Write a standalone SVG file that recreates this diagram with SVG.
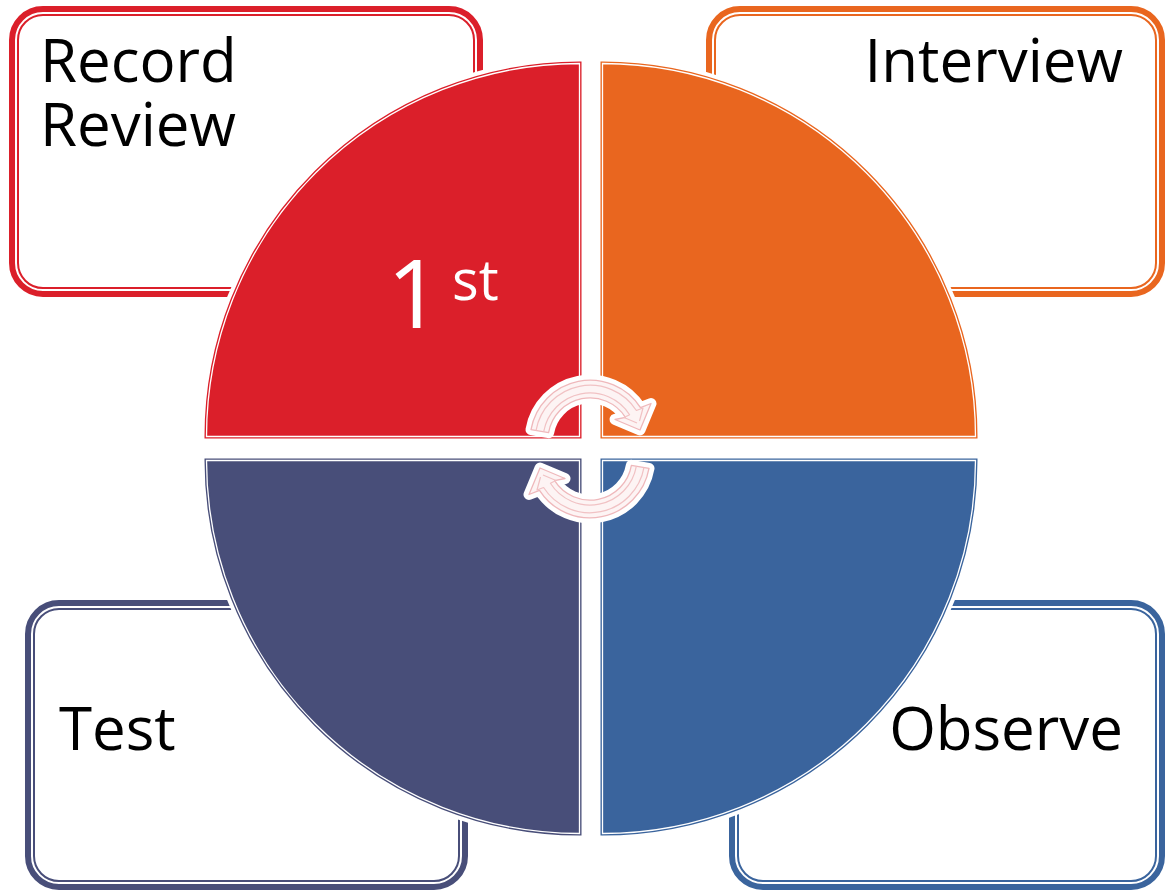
<svg xmlns="http://www.w3.org/2000/svg" width="1166" height="891" viewBox="0 0 1166 891">
<style>
.box{fill:#fff}
.thick{fill:none;stroke-width:6}
.thin{fill:none;stroke-width:2}
.halo{fill:#fff;stroke:#fff;stroke-width:12;stroke-linejoin:round}
.q{stroke-width:4;stroke-linejoin:miter}
.qline{fill:none;stroke:#fff;stroke-width:1.3}
.lbl{font-family:"Open Sans","Liberation Sans",sans-serif;font-size:60px;fill:#000}
.num{font-family:"Open Sans","Liberation Sans",sans-serif;fill:#fff}
.red{stroke:#DB1F2A}
.org{stroke:#E9661F}
.sla{stroke:#484E79}
.blu{stroke:#3A649D}
.arrHalo{fill:#fff;stroke:#fff;stroke-width:11;stroke-linejoin:round}
.arrBody{fill:#fdf4f4;stroke:#efb8bb;stroke-width:1.3;stroke-linejoin:round}
.arrCore{fill:none;stroke:#f1c2c4;stroke-width:1.2;stroke-linejoin:round}
</style>
<defs>
<g id="arrow">
<path class="arrHalo" d="M531 429.6 A60 60 0 0 1 640.5 407.7 L651 403.5 L640 430 L615 419.5 L625.4 417.3 A42 42 0 0 0 548.6 432.7 Z"/>
<path class="arrBody" d="M531 429.6 A60 60 0 0 1 640.5 407.7 L651 403.5 L640 430 L615 419.5 L625.4 417.3 A42 42 0 0 0 548.6 432.7 Z"/>
<path class="arrCore" d="M536 430.6 A55 55 0 0 1 636.4 410.5 L643 408 L639.5 421"/>
<path class="arrCore" d="M543.7 431.7 A47 47 0 0 1 629.6 414.7 L624 417.5 L637 423"/>
</g>
</defs>

<g id="box-record-review">
<rect class="box thick red" x="12" y="9" width="468" height="285" rx="31"/>
<rect class="thin red" x="18" y="15" width="456" height="273" rx="25"/>
<text class="lbl" x="40" y="82">Record</text>
<text class="lbl" x="40" y="146">Review</text>
</g>
<g id="box-interview">
<rect class="box thick org" x="709" y="9" width="453" height="285" rx="31"/>
<rect class="thin org" x="715" y="15" width="441" height="273" rx="25"/>
<text class="lbl" x="1123" y="82" text-anchor="end">Interview</text>
</g>
<g id="box-test">
<rect class="box thick sla" x="28" y="603" width="437" height="284" rx="31"/>
<rect class="thin sla" x="34" y="609" width="425" height="272" rx="25"/>
<text class="lbl" x="59" y="750">Test</text>
</g>
<g id="box-observe">
<rect class="box thick blu" x="732" y="603" width="430" height="284" rx="31"/>
<rect class="thin blu" x="738" y="609" width="418" height="272" rx="25"/>
<text class="lbl" x="1123" y="750" text-anchor="end">Observe</text>
</g>

<g id="quadrant-red">
<path class="halo" d="M579.5 436.5 V63.5 A373 373 0 0 0 206.5 436.5 Z"/>
<path class="q red" fill="#DB1F2A" d="M579.5 436.5 V63.5 A373 373 0 0 0 206.5 436.5 Z"/>
<path class="qline" d="M579.5 436.5 V63.5 A373 373 0 0 0 206.5 436.5 Z"/>
<text class="num"><tspan x="387" y="328" font-size="95">1</tspan><tspan x="452" y="300" font-size="56">st</tspan></text>
</g>
<g id="quadrant-orange">
<path class="halo" d="M602.5 436.5 V63.5 A373 373 0 0 1 975.5 436.5 Z"/>
<path class="q org" fill="#E9661F" d="M602.5 436.5 V63.5 A373 373 0 0 1 975.5 436.5 Z"/>
<path class="qline" d="M602.5 436.5 V63.5 A373 373 0 0 1 975.5 436.5 Z"/>
</g>
<g id="quadrant-slate">
<path class="halo" d="M579.5 460.5 V833.5 A373 373 0 0 1 206.5 460.5 Z"/>
<path class="q sla" fill="#484E79" d="M579.5 460.5 V833.5 A373 373 0 0 1 206.5 460.5 Z"/>
<path class="qline" d="M579.5 460.5 V833.5 A373 373 0 0 1 206.5 460.5 Z"/>
</g>
<g id="quadrant-blue">
<path class="halo" d="M602.5 460.5 V833.5 A373 373 0 0 0 975.5 460.5 Z"/>
<path class="q blu" fill="#3A649D" d="M602.5 460.5 V833.5 A373 373 0 0 0 975.5 460.5 Z"/>
<path class="qline" d="M602.5 460.5 V833.5 A373 373 0 0 0 975.5 460.5 Z"/>
</g>

<g id="connectors">
<use href="#arrow"/>
<use href="#arrow" transform="rotate(180 590 449)"/>
</g>
</svg>
